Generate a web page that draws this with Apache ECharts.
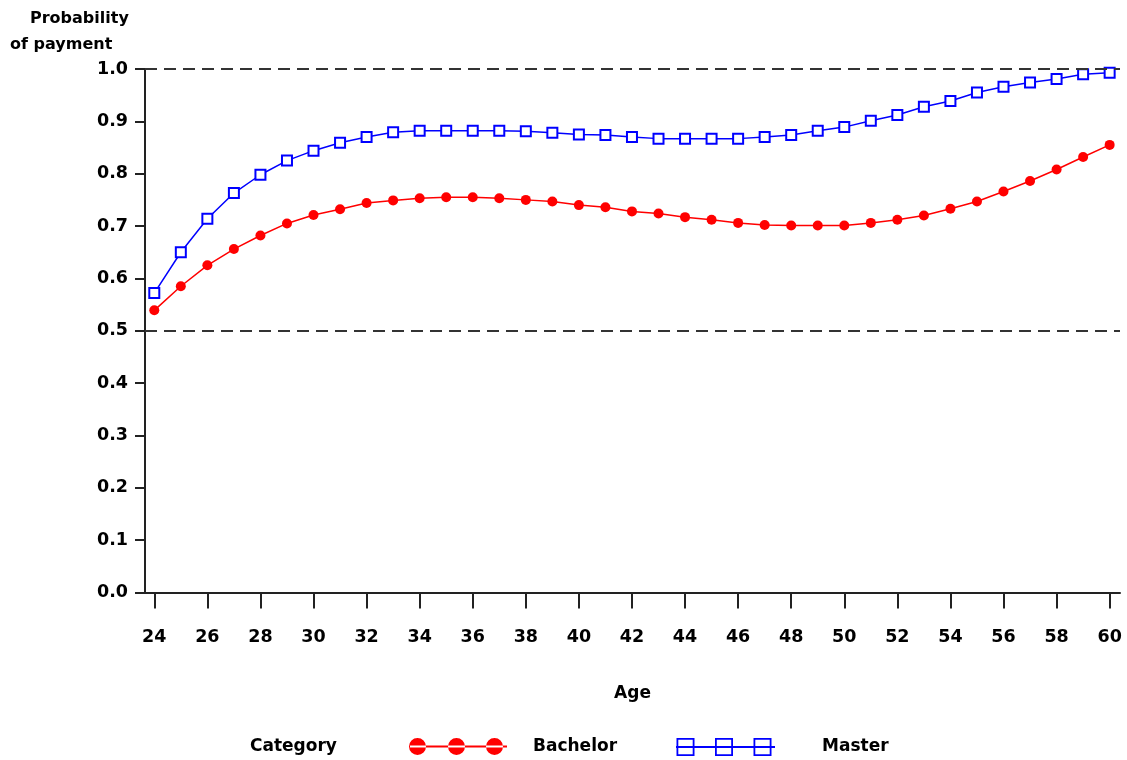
<!DOCTYPE html>
<html>
<head>
<meta charset="utf-8">
<script src="https://cdn.jsdelivr.net/npm/echarts@6/dist/echarts.min.js"></script>
<style>
html,body{margin:0;padding:0;background:#fff;}
#chart{width:1127px;height:760px;}
</style>
</head>
<body>
<div id="chart"></div>
<script>
// ---- data ----
const ages = [24,25,26,27,28,29,30,31,32,33,34,35,36,37,38,39,40,41,42,43,44,45,46,47,48,49,50,51,52,53,54,55,56,57,58,59,60];
const bachelor = [0.539,0.585,0.625,0.656,0.682,0.705,0.721,0.732,0.744,0.749,0.753,0.755,0.755,0.753,0.750,0.747,0.740,0.736,0.728,0.724,0.717,0.712,0.706,0.702,0.701,0.701,0.701,0.706,0.712,0.720,0.733,0.747,0.766,0.786,0.808,0.832,0.855];
const master = [0.572,0.650,0.714,0.763,0.798,0.825,0.844,0.859,0.870,0.879,0.882,0.882,0.882,0.882,0.881,0.878,0.875,0.874,0.870,0.867,0.867,0.867,0.867,0.870,0.874,0.882,0.889,0.901,0.912,0.928,0.939,0.955,0.966,0.974,0.981,0.990,0.993];
const xTicks = [24,26,28,30,32,34,36,38,40,42,44,46,48,50,52,54,56,58,60];
const refLines = [0.5, 1.0];
const seriesNames = ['Bachelor','Master'];

const FONT = 'DejaVu Sans';
const chart = echarts.init(document.getElementById('chart'), null, {renderer:'canvas'});

const redIcon = 'path://M0,8.5a8.5,8.5 0 1,0 17,0a8.5,8.5 0 1,0 -17,0Z' +
  'M39,8.5a8.5,8.5 0 1,0 17,0a8.5,8.5 0 1,0 -17,0Z' +
  'M77,8.5a8.5,8.5 0 1,0 17,0a8.5,8.5 0 1,0 -17,0Z' +
  'M1,7.6H98V9.4H1Z';
function sq(x0){ const x1 = x0+18; return 'M'+x0+',0H'+x1+'V18H'+x0+'Z' +
  'M'+(x0+1.8)+',1.8V16.2H'+(x1-1.8)+'V1.8Z'; }
const blueIcon = 'path://' + sq(0.5) + sq(39) + sq(77.5) + 'M0,8.1H99V9.9H0Z';

const option = {
  animation:false,
  backgroundColor:'#ffffff',
  grid:{left:145, right:7, top:69, bottom:167.5, outerBoundsMode:'none', containLabel:false},
  xAxis:{
    type:'value', min:23.65, max:60.39,
    name:'Age', nameLocation:'middle', nameGap:93,
    nameTextStyle:{fontFamily:FONT, fontWeight:'bold', fontSize:17, color:'#000'},
    axisLine:{show:true, onZero:false, lineStyle:{color:'#222', width:2}},
    axisTick:{show:true, length:16, inside:false, customValues:xTicks, lineStyle:{color:'#222', width:2}},
    axisLabel:{show:true, customValues:xTicks, margin:36, fontFamily:FONT, fontWeight:'bold', fontSize:17.5, color:'#000'},
    splitLine:{show:false}
  },
  yAxis:{
    type:'value', min:0, max:1, interval:0.1,
    axisLine:{show:true, lineStyle:{color:'#222', width:2}},
    axisTick:{show:true, length:10, lineStyle:{color:'#222', width:2}},
    axisLabel:{margin:17, fontFamily:FONT, fontWeight:'bold', fontSize:17.5, color:'#000',
      formatter:function(v){ return v.toFixed(1); }},
    splitLine:{show:false}
  },
  legend:[
    {left:404, top:733, orient:'horizontal', itemWidth:98, itemHeight:17, selectedMode:false,
     textStyle:{fontFamily:FONT, fontWeight:'bold', fontSize:17, color:'#000', padding:[4,0,0,21]},
     data:[{name:seriesNames[0], icon:redIcon, itemStyle:{color:'#ff0000', borderWidth:0}}]},
    {left:671, top:733, orient:'horizontal', itemWidth:99, itemHeight:18, selectedMode:false,
     textStyle:{fontFamily:FONT, fontWeight:'bold', fontSize:17, color:'#000', padding:[4,0,0,42]},
     data:[{name:seriesNames[1], icon:blueIcon, itemStyle:{color:'#0000ff', borderWidth:0}}]}
  ],
  graphic:[
    {type:'text', left:30, top:11, style:{text:'Probability', font:'bold 16px "DejaVu Sans"', fill:'#000'}},
    {type:'text', left:10, top:37, style:{text:'of payment', font:'bold 16px "DejaVu Sans"', fill:'#000'}},
    {type:'text', left:250, top:738, style:{text:'Category', font:'bold 17px "DejaVu Sans"', fill:'#000'}}
  ],
  series:[
    {
      name:seriesNames[0], type:'line',
      data:ages.map((a,i)=>[a, bachelor[i]]),
      symbol:'circle', symbolSize:10,
      lineStyle:{color:'#ff0000', width:1.5},
      itemStyle:{color:'#ff0000'},
      z:3,
      markLine:{
        silent:true, symbol:['none','none'], label:{show:false},
        lineStyle:{color:'#333', type:[12,7], width:2},
        data:refLines.map(v=>({yAxis:v}))
      }
    },
    {
      name:seriesNames[1], type:'line',
      data:ages.map((a,i)=>[a, master[i]]),
      symbol:'emptyRect', symbolSize:10,
      lineStyle:{color:'#0000ff', width:1.5},
      itemStyle:{color:'#0000ff', borderWidth:1.3},
      z:3
    }
  ]
};
chart.setOption(option);
</script>
</body>
</html>
